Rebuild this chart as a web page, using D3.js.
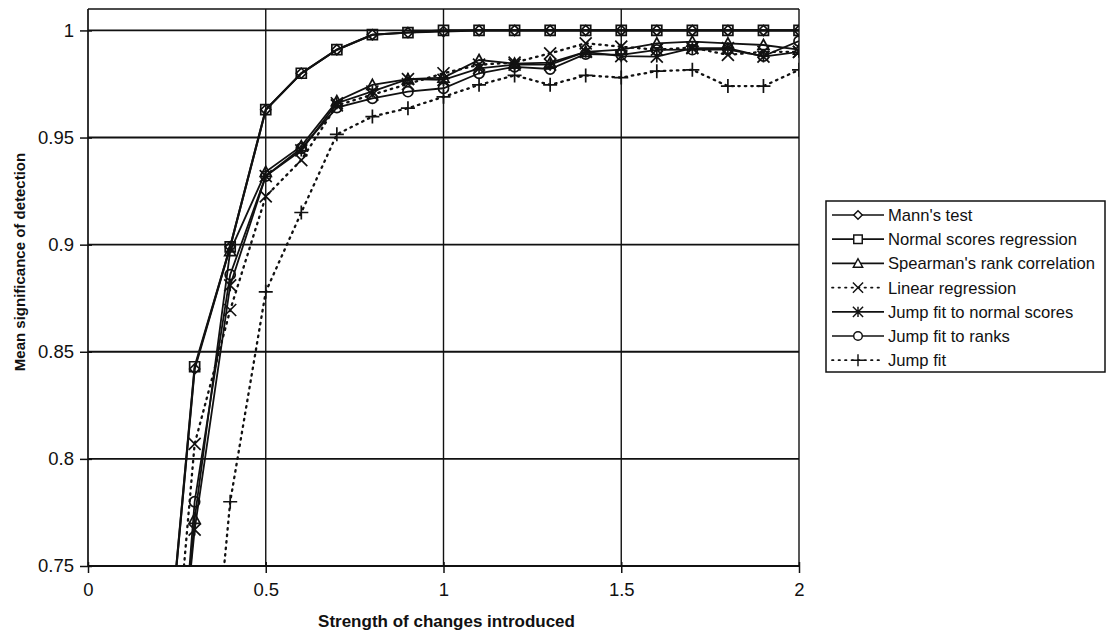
<!DOCTYPE html>
<html>
<head>
<meta charset="utf-8">
<script src="https://cdn.jsdelivr.net/npm/d3@7"></script>
<style>
  html, body { margin: 0; padding: 0; background: #fff; }
  svg { display: block; }
  text { font-family: "Liberation Sans", Arial, sans-serif; fill: #111; }
</style>
</head>
<body>
<svg id="chart" width="1107" height="637"></svg>
<script>
// ---- data ----
const xValues = [0.2,0.3,0.4,0.5,0.6,0.7,0.8,0.9,1.0,1.1,1.2,1.3,1.4,1.5,1.6,1.7,1.8,1.9,2.0];
const mannsTest        = [0.662,0.842,0.899,0.963,0.980,0.991,0.998,0.999,0.9995,1.0,1.0,1.0,1.0,1.0,1.0,1.0,1.0,1.0,1.0];
const normalScores     = [0.662,0.843,0.899,0.963,0.980,0.991,0.998,0.999,1.0,1.0,1.0,1.0,1.0,1.0,1.0,1.0,1.0,1.0,1.0];
const spearman         = [0.58,0.772,0.897,0.934,0.946,0.967,0.9746,0.9773,0.978,0.9862,0.9845,0.985,0.990,0.991,0.994,0.9948,0.994,0.9932,0.991];
const linearRegression = [0.617,0.807,0.8695,0.9225,0.9395,0.965,0.970,0.975,0.980,0.984,0.985,0.9893,0.994,0.9924,0.991,0.992,0.9886,0.990,0.990];
const jumpNormalScores = [0.60,0.767,0.881,0.932,0.944,0.966,0.9715,0.9773,0.9769,0.9823,0.984,0.984,0.990,0.988,0.9878,0.9917,0.9917,0.9878,0.990];
const jumpRanks        = [0.57,0.780,0.886,0.932,0.945,0.964,0.9683,0.9714,0.973,0.980,0.983,0.982,0.989,0.9886,0.9909,0.991,0.991,0.988,0.995];
const jumpFit          = [0.45,0.604,0.780,0.878,0.915,0.9515,0.9598,0.9637,0.969,0.9746,0.979,0.9746,0.979,0.978,0.981,0.9816,0.974,0.974,0.9816];

const seriesNames = ["Mann's test","Normal scores regression","Spearman's rank correlation","Linear regression","Jump fit to normal scores","Jump fit to ranks","Jump fit"];
const seriesValues = [mannsTest, normalScores, spearman, linearRegression, jumpNormalScores, jumpRanks, jumpFit];
const seriesMarkers = ["diamond","square","triangle","x","asterisk","circle","plus"];
const seriesDotted = [false,false,false,true,false,false,true];

const xTicks = [0,0.5,1,1.5,2];
const yTicks = [0.75,0.8,0.85,0.9,0.95,1];
const xTitle = "Strength of changes introduced";
const yTitle = "Mean significance of detection";

// ---- layout ----
const L = 88, R = 799, T = 9, B = 566;
const x = d3.scaleLinear().domain([0,2]).range([L,R]);
const y = d3.scaleLinear().domain([0.75,1.01]).range([B,T]);

const svg = d3.select("#chart");
const ink = "#111";

svg.append("defs").append("clipPath").attr("id","plotclip")
  .append("rect").attr("x",L).attr("y",T).attr("width",R-L).attr("height",B-T);

// gridlines
svg.append("g").selectAll("line").data(yTicks.filter(d=>d>0.75)).join("line")
  .attr("x1",L).attr("x2",R).attr("y1",d=>y(d)).attr("y2",d=>y(d))
  .attr("stroke",ink).attr("stroke-width",1.9);
svg.append("g").selectAll("line").data(xTicks.filter(d=>d>0)).join("line")
  .attr("x1",d=>x(d)).attr("x2",d=>x(d)).attr("y1",T).attr("y2",B)
  .attr("stroke",ink).attr("stroke-width",1.4);
// top border
svg.append("line").attr("x1",L).attr("x2",R).attr("y1",T).attr("y2",T).attr("stroke",ink).attr("stroke-width",1.4);

// axes
const yAxis = svg.append("g").attr("transform",`translate(${L},0)`)
  .call(d3.axisLeft(y).tickValues(yTicks).tickFormat(d=>d3.format("")(d)).tickSize(8).tickPadding(8));
yAxis.select(".domain").attr("stroke",ink).attr("stroke-width",1.7).attr("d",`M0,${T}V${B}`);
yAxis.selectAll(".tick line").attr("x1",4).attr("x2",-8).attr("stroke",ink).attr("stroke-width",1.5);
yAxis.selectAll(".tick text").attr("font-size",18.5).attr("x",-14).attr("fill",ink);

const xAxis = svg.append("g").attr("transform",`translate(0,${B})`)
  .call(d3.axisBottom(x).tickValues(xTicks).tickFormat(d=>d3.format("")(d)).tickSize(7).tickPadding(10));
xAxis.select(".domain").attr("stroke",ink).attr("stroke-width",1.9).attr("d",`M${L},0H${R}`);
xAxis.selectAll(".tick line").attr("y1",-4).attr("y2",7).attr("stroke",ink).attr("stroke-width",1.5);
xAxis.selectAll(".tick text").attr("font-size",18.5).attr("fill",ink);

// titles
svg.append("text").attr("x",(L+R)/2 + 3).attr("y",627).attr("text-anchor","middle")
  .attr("font-size",17).attr("font-weight","bold").text(xTitle);
svg.append("text").attr("transform",`translate(25,262) rotate(-90)`).attr("text-anchor","middle")
  .attr("font-size",15).attr("font-weight","bold").text(yTitle);

// markers
function markerPath(type){
  switch(type){
    case "diamond": return "M0,-5L5,0L0,5L-5,0Z";
    case "square": return "M-5,-5H5V5H-5Z";
    case "triangle": return "M0,-5.5L5.5,4.5H-5.5Z";
    case "x": return "M-6,-6L6,6M-6,6L6,-6";
    case "asterisk": return "M-6,-6L6,6M-6,6L6,-6M0,-6V6";
    case "circle": return d3.symbol(d3.symbolCircle, 80)();
    case "plus": return "M-7,0H7M0,-7V7";
  }
}

const plot = svg.append("g").attr("clip-path","url(#plotclip)");
const line = d3.line().x(d=>x(d[0])).y(d=>y(d[1]));

seriesValues.forEach((vals,i)=>{
  const pts = xValues.map((xv,j)=>[xv, vals[j]]);
  plot.append("path").datum(pts).attr("d",line).attr("fill","none")
    .attr("stroke",ink)
    .attr("stroke-width", seriesDotted[i] ? 2.3 : (i<2 ? 2.1 : 1.8))
    .attr("stroke-dasharray", seriesDotted[i] ? "1.5,5" : null)
    .attr("stroke-linecap", seriesDotted[i] ? "round" : "butt");
});
seriesValues.forEach((vals,i)=>{
  const pts = xValues.map((xv,j)=>[xv, vals[j]]);
  plot.append("g").selectAll("path").data(pts).join("path")
    .attr("transform",d=>`translate(${x(d[0])},${y(d[1])})`)
    .attr("d",markerPath(seriesMarkers[i]))
    .attr("fill","none").attr("stroke",ink).attr("stroke-width",1.7);
});

// legend
const lgX = 826, lgY = 201, lgW = 279, lgH = 171;
svg.append("rect").attr("x",lgX).attr("y",lgY).attr("width",lgW).attr("height",lgH)
  .attr("fill","#fff").attr("stroke",ink).attr("stroke-width",1.5);
const lg = svg.append("g");
seriesNames.forEach((name,i)=>{
  const cy = 215 + i*24.2;
  lg.append("line").attr("x1",832).attr("x2",884).attr("y1",cy).attr("y2",cy)
    .attr("stroke",ink).attr("stroke-width",1.7)
    .attr("stroke-dasharray", seriesDotted[i] ? "1.5,5" : null)
    .attr("stroke-linecap", seriesDotted[i] ? "round" : "butt");
  lg.append("path").attr("transform",`translate(858,${cy}) scale(0.85)`)
    .attr("d",markerPath(seriesMarkers[i])).attr("fill","#fff").attr("stroke",ink).attr("stroke-width",1.7);
  lg.append("text").attr("x",888).attr("y",cy).attr("dy","0.36em")
    .attr("font-size",16.6).text(name);
});
</script>
</body>
</html>
